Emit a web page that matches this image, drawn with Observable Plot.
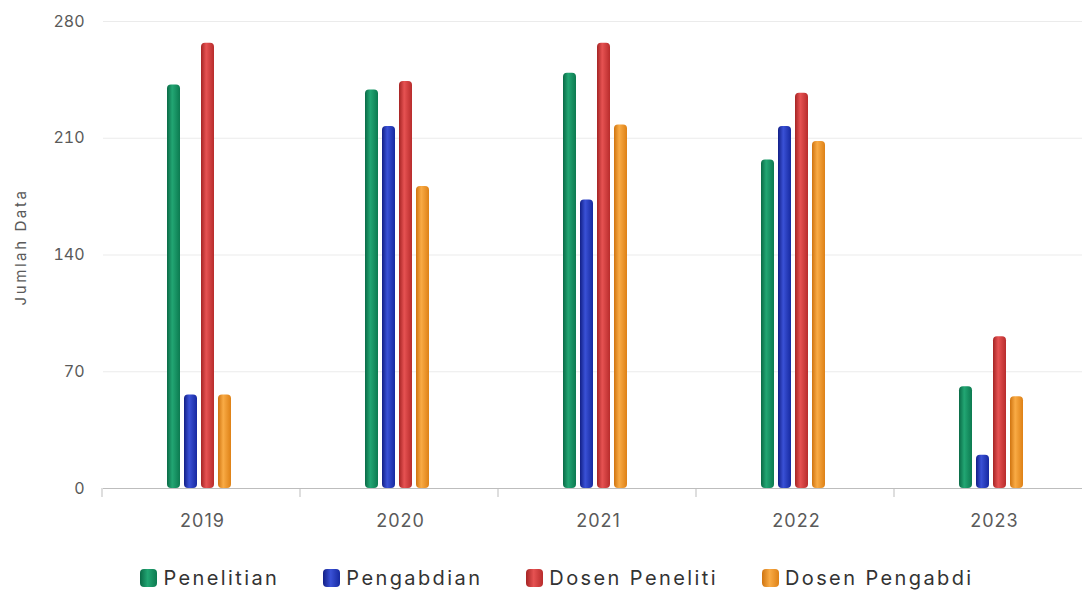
<!DOCTYPE html>
<html>
<head>
<meta charset="utf-8">
<script src="https://cdn.jsdelivr.net/npm/d3@7"></script>
<script src="https://cdn.jsdelivr.net/npm/@observablehq/plot@0.6"></script>
<style>
  html, body { margin: 0; padding: 0; background: #fff; overflow: hidden; }
  body { font-family: Inter, "Open Sans", sans-serif; width: 1082px; }
  #legend { display: flex; justify-content: center; align-items: center; gap: 44px; margin-top: 16px; padding-left: 32px; font-size: 20px; letter-spacing: 2.4px; color: #333; }
  #legend .item { display: flex; align-items: center; gap: 6px; }
  #legend .sw { width: 17px; height: 18px; border-radius: 4px; }
</style>
</head>
<body>
<div id="chart"></div>
<div id="legend"></div>
<script>
const years = ["2019", "2020", "2021", "2022", "2023"];
const seriesNames = ["Penelitian", "Pengabdian", "Dosen Peneliti", "Dosen Pengabdi"];
const penelitian    = [242, 239, 249, 197, 61];
const pengabdian    = [56, 217, 173, 217, 20];
const dosenPeneliti = [267, 244, 267, 237, 91];
const dosenPengabdi = [56, 181, 218, 208, 55];
const yTicks = [0, 70, 140, 210, 280];

const seriesValues = [penelitian, pengabdian, dosenPeneliti, dosenPengabdi];
const gradStops = [
  ["#0a6a46", "#22a673", "#0c7a50"],
  ["#121f86", "#3a51d6", "#1629a0"],
  ["#a52424", "#e65252", "#b82c2c"],
  ["#cf7410", "#f9ab45", "#de8116"]
];

const data = [];
years.forEach((yr, i) => {
  seriesNames.forEach((s, j) => data.push({year: yr, series: s, value: seriesValues[j][i]}));
});

const W = 1082, H = 550;
const plot = Plot.plot({
  width: W,
  height: H,
  marginLeft: 102,
  marginRight: -12,
  marginTop: 21,
  marginBottom: 62,
  style: {fontFamily: "Inter, 'Open Sans', sans-serif", background: "transparent"},
  fx: {domain: years, padding: 0, label: null},
  x: {domain: seriesNames, paddingInner: 0.22, paddingOuter: 3.85, align: 0.48, axis: null},
  y: {domain: [0, 280], ticks: yTicks},
  color: {domain: seriesNames, range: seriesNames.map((_, i) => `url(#grad${i})`)},
  marks: [
    Plot.gridY(yTicks.filter(t => t > 0), {stroke: "#ebebeb", strokeOpacity: 1}),
    Plot.axisY(yTicks, {tickSize: 0, tickPadding: 19, fontSize: 16, fill: "#5a5a5a", label: "Jumlah Data", labelAnchor: "center", labelArrow: "none", labelOffset: 88}),
    Plot.axisFx({anchor: "bottom", tickSize: 0, tickPadding: 26, fontSize: 18, fill: "#5a5a5a", label: null}),
    Plot.barY(data, {fx: "year", x: "series", y: "value", fill: "series", rx: 4}),
    Plot.ruleY([0], {stroke: "#bdbdbd"})
  ]
});

const svg = d3.select(plot);
// gradients for cylinder-like bars
const defs = svg.insert("defs", ":first-child");
gradStops.forEach((st, i) => {
  const g = defs.append("linearGradient").attr("id", `grad${i}`).attr("x1", "0").attr("x2", "1").attr("y1", "0").attr("y2", "0");
  g.append("stop").attr("offset", "0%").attr("stop-color", st[0]);
  g.append("stop").attr("offset", "40%").attr("stop-color", st[1]);
  g.append("stop").attr("offset", "100%").attr("stop-color", st[2]);
});

// text tweaks to match the wider reference typeface
svg.selectAll('g[aria-label="fx-axis tick label"] text').attr("letter-spacing", "1px");
const yl = svg.select('g[aria-label="y-axis label"]');
const prev = yl.attr("transform") || "";
yl.attr("transform", (prev + " translate(0,-8)").trim());
yl.selectAll("text").attr("font-size", 15).attr("letter-spacing", "2.6px");

// category boundary ticks on the x axis
const fx = plot.scale("fx");
const y0 = plot.scale("y").apply(0);
const step = fx.step ?? ((fx.range[1] - fx.range[0]) / years.length);
const bounds = d3.range(years.length + 1).map(i => fx.range[0] + i * step);
svg.append("g").selectAll("line").data(bounds).join("line")
  .attr("x1", d => d).attr("x2", d => d)
  .attr("y1", y0).attr("y2", y0 + 9)
  .attr("stroke", "#bdbdbd");

document.getElementById("chart").append(plot);

const legend = document.getElementById("legend");
seriesNames.forEach((s, i) => {
  const item = document.createElement("div");
  item.className = "item";
  const sw = document.createElement("span");
  sw.className = "sw";
  sw.style.background = `linear-gradient(90deg, ${gradStops[i][0]}, ${gradStops[i][1]} 45%, ${gradStops[i][2]})`;
  const t = document.createElement("span");
  t.textContent = s;
  item.append(sw, t);
  legend.append(item);
});
</script>
</body>
</html>
